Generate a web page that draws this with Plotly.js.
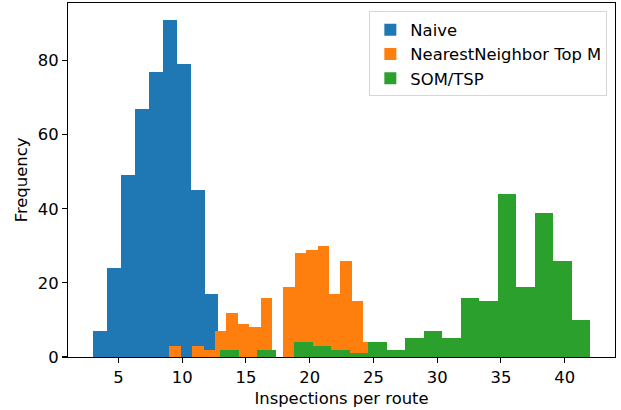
<!DOCTYPE html>
<html>
<head>
<meta charset="utf-8">
<script src="https://cdn.plot.ly/plotly-3.0.1.min.js"></script>
<style>html,body{margin:0;padding:0;background:#fff;}#chart{width:621px;height:410px;}</style>
</head>
<body>
<div id="chart"></div>
<script>
// Histogram counts, with each series' bin range
const seriesNames = ["Naive", "NearestNeighbor Top M", "SOM/TSP"];
const naiveCounts = [7, 24, 49, 67, 77, 91, 79, 45, 17];
const naiveRange = [3, 12.85];
const nnCounts = [3, 0, 3, 2, 7, 12, 9, 8, 16, 0, 19, 28, 29, 30, 17, 26, 15, 4, 3];
const nnRange = [9, 26];
const somCounts = [2, 0, 2, 0, 4, 3, 2, 1, 4, 2, 5, 7, 5, 16, 15, 44, 19, 39, 26, 10];
const somRange = [13, 42];
const xTickVals = [5, 10, 15, 20, 25, 30, 35, 40];
const yTickVals = [0, 20, 40, 60, 80];

const colors = ["#1f77b4", "#ff7f0e", "#2ca02c"];
const FONT = "DejaVu Sans, sans-serif";
const FS = 16.4;

function histTrace(counts, range, name, color) {
  const w = (range[1] - range[0]) / counts.length;
  const x = counts.map((_, i) => range[0] + w * (i + 0.5));
  return {
    type: "bar", x: x, y: counts, width: counts.map(() => w), name: name,
    marker: {color: color, line: {width: 0}}, opacity: 1,
    hoverinfo: "x+y"
  };
}

const data = [
  histTrace(naiveCounts, naiveRange, seriesNames[0], colors[0]),
  histTrace(nnCounts, nnRange, seriesNames[1], colors[1]),
  histTrace(somCounts, somRange, seriesNames[2], colors[2])
];

const allMax = Math.max(...naiveCounts, ...nnCounts, ...somCounts);
const xmin = Math.min(naiveRange[0], nnRange[0], somRange[0]);
const xmax = Math.max(naiveRange[1], nnRange[1], somRange[1]);
const pad = (xmax - xmin) * 0.05;

const layout = {
  width: 621, height: 410,
  margin: {l: 68, r: 6, t: 3, b: 53, pad: 0},
  paper_bgcolor: "#fff", plot_bgcolor: "#fff",
  barmode: "overlay", bargap: 0,
  font: {family: FONT, size: FS, color: "#000"},
  showlegend: true,
  legend: {
    x: 0.986, xanchor: "right", y: 0.976, yanchor: "top",
    bgcolor: "rgba(255,255,255,0.8)", bordercolor: "#d6d6d6", borderwidth: 1,
    font: {family: FONT, size: FS, color: "#000"},
    traceorder: "normal"
  },
  xaxis: {
    range: [xmin - pad, xmax + pad],
    tickvals: xTickVals, ticktext: xTickVals.map(String),
    ticks: "outside", ticklen: 5, tickwidth: 1.1, tickcolor: "#000",
    showline: true, mirror: true, linecolor: "#000", linewidth: 1.1,
    showgrid: false, zeroline: false,
    title: {text: "Inspections per route", font: {family: FONT, size: FS, color: "#000"}, standoff: 6},
    tickfont: {family: FONT, size: FS, color: "#000"}
  },
  yaxis: {
    range: [0, allMax * 1.05],
    tickvals: yTickVals, ticktext: yTickVals.map(String),
    ticks: "outside", ticklen: 5, tickwidth: 1.1, tickcolor: "#000",
    showline: true, mirror: true, linecolor: "#000", linewidth: 1.1,
    showgrid: false, zeroline: false,
    title: {text: "Frequency", font: {family: FONT, size: FS, color: "#000"}, standoff: 6},
    tickfont: {family: FONT, size: FS, color: "#000"}
  }
};

Plotly.newPlot("chart", data, layout, {staticPlot: true, displayModeBar: false});
</script>
</body>
</html>
